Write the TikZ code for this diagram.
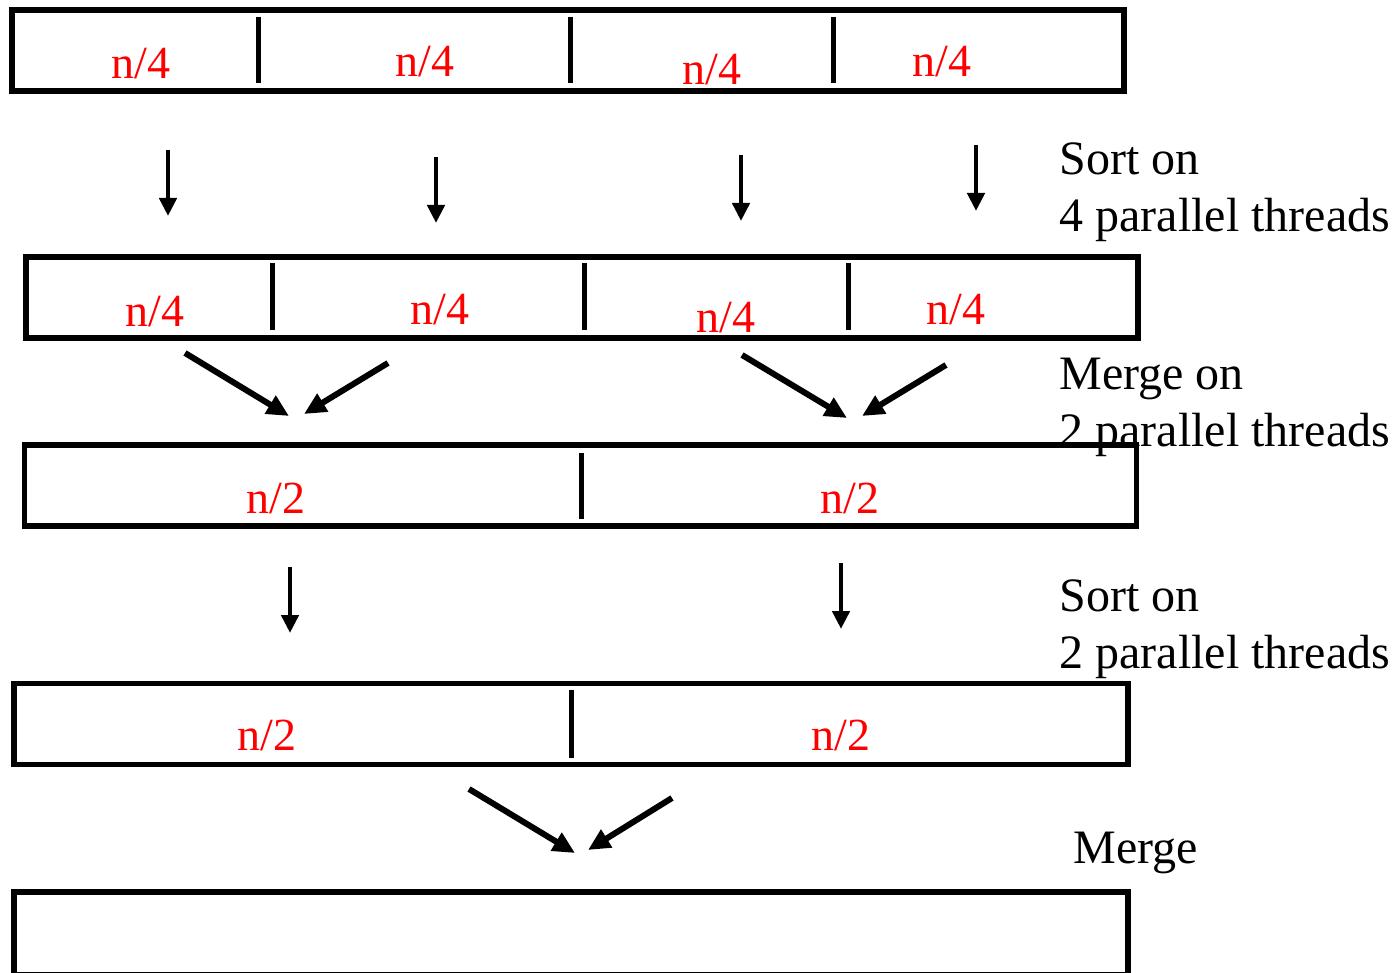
\documentclass[tikz,border=0pt]{standalone}
\usepackage{fontspec}
\setmainfont{Liberation Serif}
\usepackage{tikz}
\usetikzlibrary{arrows.meta}

\begin{document}
\begin{tikzpicture}[x=0.5pt, y=-0.5pt,
    every node/.style={font=\fontsize{23}{28.5}\selectfont},
    bar/.style={draw, line width=2.7pt, inner sep=0pt, minimum width=556pt, minimum height=40.5pt},
    part/.style={text=red, anchor=base, inner sep=0pt},
    note/.style={anchor=base west, inner sep=0pt, align=left, font=\fontsize{24}{28.5}\selectfont},
    cut/.style={line width=2.5pt},
    sortarrow/.style={-{Triangle[length=9pt,width=8.5pt]}, line width=2.4pt},
    mergearrow/.style={-{Triangle[length=11pt,width=10pt]}, line width=3pt}]
  \useasboundingbox (0,0) rectangle (1396,973);

  % the five arrays
  \node[bar] (row1) at (568,50.5) {};
  \node[bar] (row2) at (582,297.5) {};
  \node[bar] (row3) at (580.5,485.5) {};
  \node[bar, minimum width=557pt] (row4) at (571,724) {};
  \node[bar, minimum width=557pt, minimum height=41.5pt] (row5) at (571,933.5) {};

  % quarters
  \draw[cut] (258,17) -- (258,83);
  \draw[cut] (570,17) -- (570,83);
  \draw[cut] (833,17) -- (833,83);
  \node[part] (q11) at (141,79) {n/4};
  \node[part] (q12) at (425,77) {n/4};
  \node[part] (q13) at (712,85) {n/4};
  \node[part] (q14) at (942,77) {n/4};

  \draw[cut] (272,263) -- (272,330);
  \draw[cut] (584,263) -- (584,330);
  \draw[cut] (848,263) -- (848,330);
  \node[part] (q21) at (155,326) {n/4};
  \node[part] (q22) at (440,324) {n/4};
  \node[part] (q23) at (726,332) {n/4};
  \node[part] (q24) at (956,324) {n/4};

  % halves
  \draw[cut] (581,453) -- (581,519);
  \node[part] (h31) at (276,513) {n/2};
  \node[part] (h32) at (850,513) {n/2};

  \draw[cut] (571,690) -- (571,758);
  \node[part] (h41) at (267,750) {n/2};
  \node[part] (h42) at (841,750) {n/2};

  % sort on 4 threads
  \coordinate (s1a) at (168,150); \coordinate (s1b) at (168,216);
  \coordinate (s2a) at (436,157); \coordinate (s2b) at (436,223);
  \coordinate (s3a) at (741,155); \coordinate (s3b) at (741,221);
  \coordinate (s4a) at (976,145); \coordinate (s4b) at (976,211);
  \draw[sortarrow] (s1a) -- (s1b);
  \draw[sortarrow] (s2a) -- (s2b);
  \draw[sortarrow] (s3a) -- (s3b);
  \draw[sortarrow] (s4a) -- (s4b);
  \node[note] (sort4) at (1059,232) {Sort on\\4 parallel threads};

  % merge on 2 threads
  \coordinate (m1a) at (185,353); \coordinate (m1b) at (289,416);
  \coordinate (m2a) at (388,363); \coordinate (m2b) at (304,414);
  \coordinate (m3a) at (742,355); \coordinate (m3b) at (847,418);
  \coordinate (m4a) at (946,365); \coordinate (m4b) at (862,416);
  \draw[mergearrow] (m1a) -- (m1b);
  \draw[mergearrow] (m2a) -- (m2b);
  \draw[mergearrow] (m3a) -- (m3b);
  \draw[mergearrow] (m4a) -- (m4b);
  \node[note] (merge2) at (1059,446) {Merge on\\2 parallel threads};

  % sort on 2 threads
  \coordinate (t1a) at (290,567); \coordinate (t1b) at (290,633);
  \coordinate (t2a) at (841,563); \coordinate (t2b) at (841,629);
  \draw[sortarrow] (t1a) -- (t1b);
  \draw[sortarrow] (t2a) -- (t2b);
  \node[note] (sort2) at (1059,668) {Sort on\\2 parallel threads};

  % final merge
  \coordinate (f1a) at (469,789); \coordinate (f1b) at (575,853);
  \coordinate (f2a) at (672,798); \coordinate (f2b) at (588,850);
  \draw[mergearrow] (f1a) -- (f1b);
  \draw[mergearrow] (f2a) -- (f2b);
  \node[note] (merge1) at (1073,863) {Merge};
\end{tikzpicture}
\end{document}
